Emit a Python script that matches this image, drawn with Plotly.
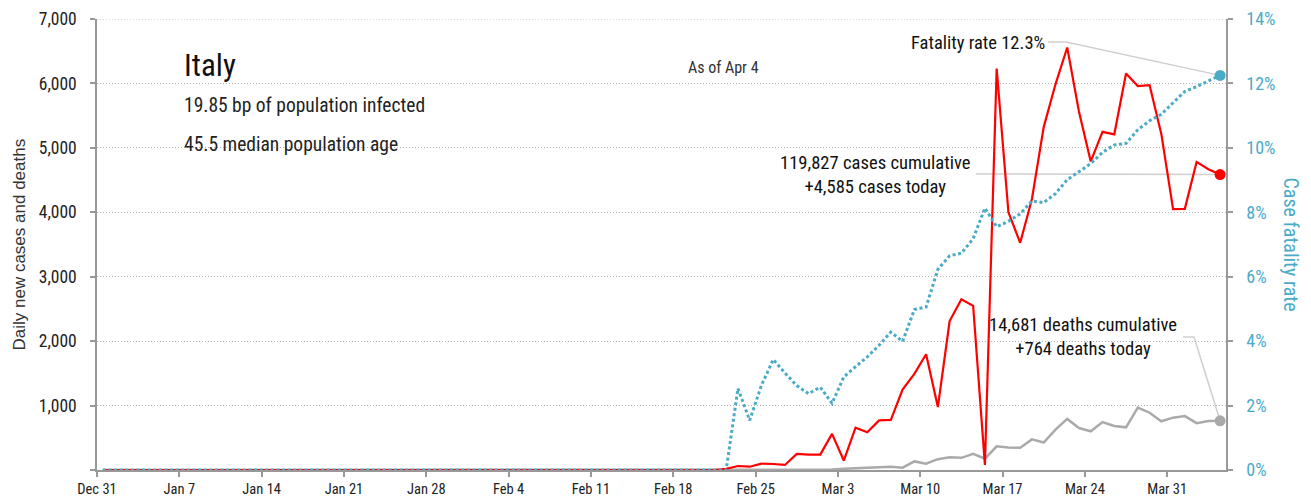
import pandas as pd
import plotly.graph_objects as go

# ---------------- data ----------------
start_date = "2019-12-31"
n_days = 96  # Dec 31 .. Apr 4

# Dec 31 .. Feb 21 : nothing reported on the chart
quiet_cases = [0] * 53
quiet_deaths = [0] * 53
quiet_cfr = [0.0] * 53

# Feb 22 .. Apr 4
cases_tail = [17, 62, 51, 98, 93, 78, 250, 238,
              240, 561, 147, 657, 586, 769, 778, 1247, 1492, 1797, 977, 2313,
              2651, 2547, 80, 6230, 4000, 3526, 4207, 5322, 5986, 6557, 5560,
              4789, 5249, 5210, 6153, 5959, 5974, 5217, 4050,
              4053, 4782, 4668, 4585]
deaths_tail = [0, 2, 0, 4, 5, 1, 5, 4,
               8, 6, 18, 27, 28, 41, 49, 36, 133, 97, 168, 196,
               189, 250, 175, 368, 349, 345, 475, 427, 627, 793, 651,
               601, 743, 683, 662, 969, 889, 756, 812,
               837, 727, 760, 764]
cfr_tail = [0.0, 2.53, 1.54, 2.63, 3.43, 3.01, 2.62, 2.37,
            2.57, 2.07, 2.89, 3.21, 3.51, 3.87, 4.28, 3.99, 4.98, 5.06, 6.23, 6.65,
            6.73, 7.18, 8.13, 7.55, 7.72, 7.95, 8.35, 8.30, 8.58, 9.01, 9.26,
            9.51, 9.86, 10.09, 10.14, 10.56, 10.84, 11.04, 11.40,
            11.75, 11.90, 12.08, 12.25]

daily_cases = quiet_cases + cases_tail
daily_deaths = quiet_deaths + deaths_tail
cfr_pct = quiet_cfr + cfr_tail

week_labels = ["Dec 31", "Jan 7", "Jan 14", "Jan 21", "Jan 28", "Feb 4", "Feb 11",
               "Feb 18", "Feb 25", "Mar 3", "Mar 10", "Mar 17", "Mar 24", "Mar 31"]
left_ticks = [0, 1000, 2000, 3000, 4000, 5000, 6000, 7000]
left_labels = ["", "1,000", "2,000", "3,000", "4,000", "5,000", "6,000", "7,000"]
right_ticks = [0, 2, 4, 6, 8, 10, 12, 14]
right_labels = ["0%", "2%", "4%", "6%", "8%", "10%", "12%", "14%"]

country = "Italy"
line_infected = "19.85 bp of population infected"
line_age = "45.5 median population age"
as_of = "As of Apr 4"
fatality_text = "Fatality rate 12.3%"
cases_text = "119,827 cases cumulative<br>+4,585 cases today"
deaths_text = "14,681 deaths cumulative<br>+764 deaths today"

# ---------------- styling ----------------
# the page body has an 8px margin, so the figure is drawn 8px in from the corner
BODY = 8
W, H = 1311 - BODY, 499 - BODY
PL, PR, PT, PB = 97, 1226, 19, 470          # plot area in page pixels
ML, MR, MT, MB = PL - BODY, (BODY + W) - PR, PT - BODY, (BODY + H) - PB
PW, PH = PR - PL, PB - PT
NARROW = "Roboto Condensed, Liberation Sans Narrow, Liberation Sans, Arial, sans-serif"
REG = "Liberation Sans, Arial, sans-serif"
RED = "#ff0000"
GREY = "#aaaaaa"
BLUE = "#4aabc7"
AXIS = "#999999"
CONN = "#cfcfcf"

dates = pd.date_range(start_date, periods=n_days, freq="D")
xpos = dates + pd.Timedelta(hours=12)
x_range = [pd.Timestamp(start_date), pd.Timestamp(start_date) + pd.Timedelta(days=n_days)]
tick_dates = pd.date_range(start_date, periods=len(week_labels), freq="7D")
y_max = left_ticks[-1]
y2_max = right_ticks[-1]


def px_x(p):
    return (p - PL) / PW


def px_y(p):
    return (PB - p) / PH


def date_to_paper(t):
    return (t - x_range[0]) / (x_range[1] - x_range[0])


fig = go.Figure()

fig.add_trace(go.Scatter(x=xpos, y=daily_deaths, mode="lines",
                         line=dict(color=GREY, width=2.5), hoverinfo="skip"))
fig.add_trace(go.Scatter(x=xpos, y=daily_cases, mode="lines",
                         line=dict(color=RED, width=2.2), hoverinfo="skip"))
fig.add_trace(go.Scatter(x=xpos, y=cfr_pct, mode="lines", yaxis="y2",
                         line=dict(color=BLUE, width=3, dash="3px,2.6px"), hoverinfo="skip"))

# end-point markers
fig.add_trace(go.Scatter(x=[xpos[-1]], y=[daily_deaths[-1]], mode="markers",
                         marker=dict(color=GREY, size=11), hoverinfo="skip"))
fig.add_trace(go.Scatter(x=[xpos[-1]], y=[daily_cases[-1]], mode="markers",
                         marker=dict(color=RED, size=11), hoverinfo="skip"))
fig.add_trace(go.Scatter(x=[xpos[-1]], y=[cfr_pct[-1]], mode="markers", yaxis="y2",
                         marker=dict(color=BLUE, size=11), hoverinfo="skip"))

end_x = date_to_paper(xpos[-1])
end_case_y = daily_cases[-1] / y_max
end_death_y = daily_deaths[-1] / y_max
end_cfr_y = cfr_pct[-1] / y2_max

shapes = [
    # dotted gridline along the top value of the left axis
    dict(type="line", xref="paper", yref="y", layer="below",
         x0=0, x1=1, y0=y_max, y1=y_max,
         line=dict(color="#b5b5b5", width=1, dash="1px,2px")),
    dict(type="path", xref="paper", yref="paper", layer="below",
         path=f"M {px_x(1048)},{px_y(42)} L {px_x(1066)},{px_y(42)} L {end_x},{end_cfr_y}",
         line=dict(color=CONN, width=1.5)),
    dict(type="path", xref="paper", yref="paper", layer="below",
         path=f"M {px_x(976)},{px_y(174)} L {end_x},{end_case_y}",
         line=dict(color=CONN, width=1.5)),
    dict(type="path", xref="paper", yref="paper", layer="below",
         path=f"M {px_x(1183)},{px_y(337)} L {px_x(1194)},{px_y(337)} L {end_x},{end_death_y}",
         line=dict(color=CONN, width=1.5)),
]


def ann(text, x, y, size, xanchor="left", color="#111111", family=NARROW, **kw):
    return dict(text=text, x=x, y=y, xref="paper", yref="paper", xanchor=xanchor,
                yanchor="middle", showarrow=False,
                font=dict(family=family, size=size, color=color), **kw)


annotations = [
    ann(country, px_x(182), px_y(65), 31),
    ann(line_infected, px_x(182), px_y(105), 19.5, color="#222222"),
    ann(line_age, px_x(182), px_y(144), 19.5, color="#222222"),
    ann(as_of, px_x(686), px_y(67), 16, color="#333333"),
    ann(fatality_text, px_x(1047), px_y(43), 18.5, xanchor="right"),
    ann(cases_text, px_x(875), px_y(175), 18.6, xanchor="center", align="center"),
    ann(deaths_text, px_x(1083), px_y(337), 18.6, xanchor="center", align="center"),
    ann("Daily new cases and deaths", px_x(19), 0.5, 17, xanchor="center",
        color="#333333", family=REG, textangle=-90),
    ann("Case fatality rate", px_x(1291), 0.5, 20, xanchor="center",
        color=BLUE, textangle=90),
]

fig.update_layout(
    width=W, height=H,
    margin=dict(l=ML, r=MR, t=MT, b=MB, pad=0, autoexpand=False),
    paper_bgcolor="white", plot_bgcolor="white",
    showlegend=False,
    xaxis=dict(type="date", range=x_range, tickvals=tick_dates, ticktext=week_labels,
               ticks="outside", ticklen=5, tickwidth=1.5, tickcolor=AXIS,
               showline=True, linecolor=AXIS, linewidth=1.5, showgrid=False,
               zeroline=False, automargin=False, ticklabeloverflow="allow",
               tickfont=dict(family=NARROW, size=14.5, color="#222222")),
    yaxis=dict(range=[0, y_max], tickvals=left_ticks, ticktext=left_labels,
               ticks="outside", ticklen=5, tickwidth=1.5, tickcolor=AXIS,
               showline=True, linecolor=AXIS, linewidth=1.5, zeroline=False,
               showgrid=True, gridcolor="#b5b5b5", griddash="1px,2px", gridwidth=1,
               automargin=False, ticklabeloverflow="allow", ticklabelstandoff=10,
               tickfont=dict(family=NARROW, size=17.5, color="#222222")),
    yaxis2=dict(range=[0, y2_max], tickvals=right_ticks, ticktext=right_labels,
                overlaying="y", side="right", anchor="x",
                ticks="outside", ticklen=5, tickwidth=1.5, tickcolor=AXIS,
                showline=True, linecolor=AXIS, linewidth=1.5, zeroline=False,
                showgrid=False, automargin=False, ticklabeloverflow="allow",
                ticklabelstandoff=10,
                tickfont=dict(family=NARROW, size=18, color=BLUE)),
    shapes=shapes,
    annotations=annotations,
)

fig.write_html("out.html")
